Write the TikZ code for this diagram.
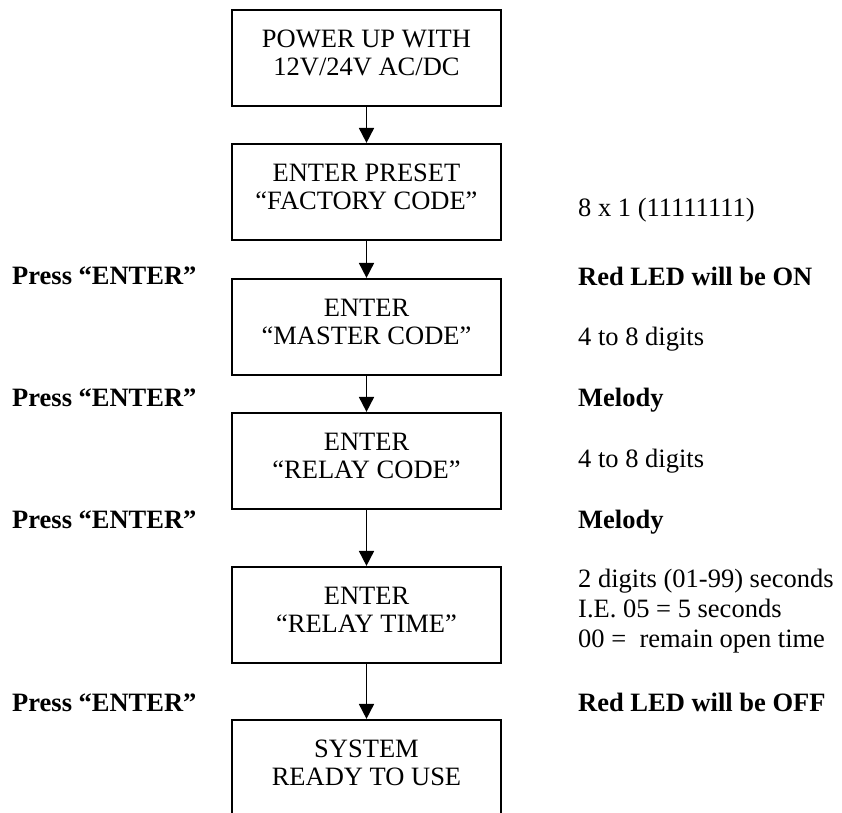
\documentclass[tikz,border=0pt]{standalone}
\usepackage{fontspec}
\setmainfont{Liberation Serif}
\usetikzlibrary{arrows.meta}

\begin{document}
\begin{tikzpicture}[x=1pt, y=-1pt, font=\fontsize{26.5}{28}\selectfont,
    flowbox/.style={draw, line width=2.2pt, minimum width=269pt, minimum height=96pt, inner sep=0pt},
    boxtext/.style={align=center, yshift=5.5pt},
    flowarrow/.style={line width=1.8pt, -{Triangle[length=15pt, width=15pt]}},
    sidenote/.style={anchor=base west, inner sep=0pt},
    boldnote/.style={sidenote, font=\fontsize{26.5}{28}\selectfont\bfseries}]
  \useasboundingbox (0,0) rectangle (842,812);
  \clip (0,0) rectangle (842,812);
  \node[flowbox, label={[boxtext]center:{POWER UP WITH\\12V/24V AC/DC}}] (power) at (366.5,58) {};
  \node[flowbox, label={[boxtext]center:{ENTER PRESET\\“FACTORY CODE”}}] (factory) at (366.5,192) {};
  \node[flowbox, label={[boxtext]center:{ENTER\\“MASTER CODE”}}] (master) at (366.5,327) {};
  \node[flowbox, label={[boxtext]center:{ENTER\\“RELAY CODE”}}] (relaycode) at (366.5,461) {};
  \node[flowbox, label={[boxtext]center:{ENTER\\“RELAY TIME”}}] (relaytime) at (366.5,615) {};
  \node[flowbox, label={[boxtext]center:{SYSTEM\\READY TO USE}}] (ready) at (366.5,768) {};
  \draw[flowarrow] (power) -- (factory);
  \draw[flowarrow] (factory) -- (master);
  \draw[flowarrow] (master) -- (relaycode);
  \draw[flowarrow] (relaycode) -- (relaytime);
  \draw[flowarrow] (relaytime) -- (ready);
  \node[boldnote] (press1) at (12,284) {Press “ENTER”};
  \node[boldnote] (press2) at (12,406) {Press “ENTER”};
  \node[boldnote] (press3) at (12,528) {Press “ENTER”};
  \node[boldnote] (press4) at (12,711) {Press “ENTER”};
  \node[sidenote] (factorycode) at (578,216) {8 x 1 (11111111)};
  \node[boldnote] (ledon) at (578,285) {Red LED will be ON};
  \node[sidenote] (masterdigits) at (578,345) {4 to 8 digits};
  \node[boldnote] (melody1) at (578,406) {Melody};
  \node[sidenote] (relaydigits) at (578,467) {4 to 8 digits};
  \node[boldnote] (melody2) at (578,528) {Melody};
  \node[anchor=west, align=left, inner sep=0pt, font=\fontsize{26.5}{30}\selectfont] (timenote) at (578,611)
    {2 digits (01-99) seconds\\I.E. 05 = 5 seconds\\00 = \ remain open time};
  \node[boldnote] (ledoff) at (578,711) {Red LED will be OFF};
\end{tikzpicture}
\end{document}
